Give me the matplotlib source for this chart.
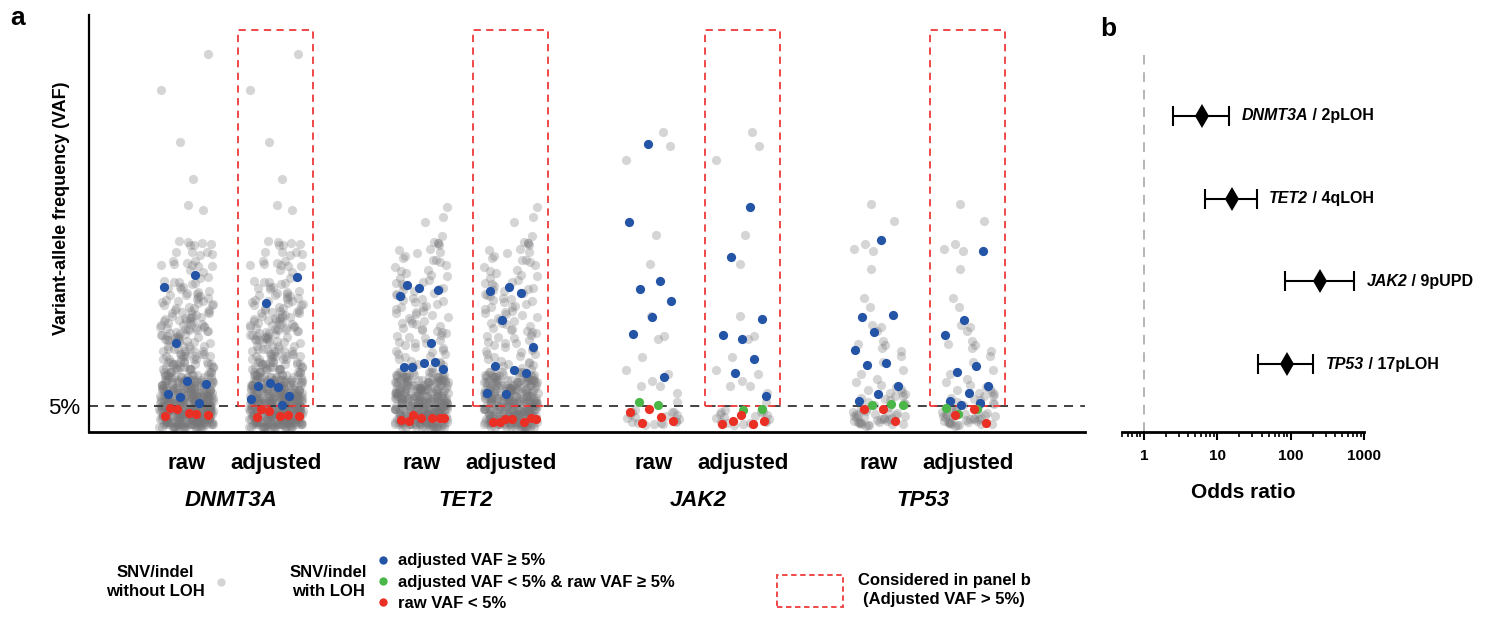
import numpy as np
import matplotlib
matplotlib.use('Agg')
import matplotlib.pyplot as plt
from matplotlib.lines import Line2D
from matplotlib.patches import Rectangle, Patch
from matplotlib.transforms import blended_transform_factory
from matplotlib.ticker import FixedLocator, FixedFormatter, LogLocator, NullFormatter

plt.rcParams['font.family'] = ['Liberation Sans', 'DejaVu Sans']

# ---------------- data ----------------
genes = ['DNMT3A', 'TET2', 'JAK2', 'TP53']
columns = ['raw', 'adjusted']
threshold = 5  # VAF %

# gray: SNV/indel without LOH (same in raw and adjusted columns)
dnmt3a_gray_upper = [72.6, 65.6, 55.7, 48.6, 43.6, 42.6, 36.7, 36.5, 36.2, 36.1, 35.9, 35.9, 34.6, 34.5,
                     34.5, 34.2, 34.0, 32.9, 32.8, 32.4, 32.2, 32.1, 32.1, 31.9, 31.9, 31.0, 30.6, 29.7,
                     29.6, 29.0, 28.8, 28.7, 28.6, 28.3, 27.9, 27.8, 27.4, 27.1, 26.9, 26.6, 26.5, 26.2,
                     26.0, 25.8, 25.5, 25.4, 25.1, 24.9, 24.7, 24.4, 24.3, 24.0, 23.8, 23.7, 23.4, 23.2,
                     23.0, 22.9, 22.6, 22.5, 22.3, 22.1, 21.9, 21.8, 21.6, 21.4, 21.3, 21.1, 20.9, 20.8,
                     20.6, 20.5, 20.3, 20.2, 20.0, 19.9, 19.7, 19.6, 19.4, 19.3, 19.1, 19.0, 18.9, 18.7,
                     18.6, 18.4, 18.3, 18.2, 18.0, 17.9, 17.8, 17.6, 17.5, 17.4, 17.2, 17.1,
                     27.6, 26.3, 25.2, 24.6, 23.5, 22.8, 22.0, 21.5, 20.7, 20.1, 19.5, 18.8, 18.1, 17.7,
                     25.9, 23.1, 21.2, 19.8, 18.5, 17.3]
dnmt3a_band_levels = [1.0, 1.5, 2.0, 2.5, 3.0, 3.5, 4.0, 4.5, 5.0, 5.5, 6.0, 6.5, 7.0, 7.5, 8.0, 8.5,
                      9.0, 9.5, 10.0, 10.5, 11.0, 11.5, 12.0, 12.5, 13.0, 13.5, 14.0, 14.5, 15.0, 15.5,
                      16.0, 16.5]
dnmt3a_band_counts = [18, 20, 20, 20, 20, 20, 20, 20, 19, 19, 18, 18, 17, 16, 15, 14,
                      13, 12, 11, 9, 8, 7, 7, 6, 6, 6, 5, 5, 5, 4, 4, 4]

tet2_gray_upper = [43.1, 41.2, 40.2, 37.6, 36.5, 36.2, 36.2, 35.9, 35.2, 34.9, 34.6, 34.3, 33.8, 33.3,
                   33.0, 33.0, 32.6, 32.1, 31.6, 31.1, 30.8, 30.5, 30.1, 29.9, 29.6, 29.2, 28.8, 28.6,
                   28.4, 28.0, 27.7, 27.5, 27.3, 27.0, 26.7, 26.5, 26.3, 26.1, 25.8, 25.6, 25.4, 25.2,
                   24.9, 24.5, 24.2, 24.0, 23.9, 23.6, 23.3, 23.1, 22.8, 22.6, 22.4, 22.1, 21.9, 21.5,
                   21.2, 21.0, 20.9, 20.7, 20.3, 20.0, 19.8, 19.6, 19.4, 19.1, 18.9, 18.7, 18.5, 18.2,
                   18.0, 17.6, 17.3, 17.1, 17.0, 16.7, 16.4, 16.2, 15.8, 15.5, 15.3, 15.0, 14.9, 14.6,
                   14.4, 14.0, 13.7, 13.5, 13.3, 13.1, 12.8, 12.6, 12.2, 12.0]
tet2_band_levels = [1.0, 1.5, 2.0, 2.5, 3.0, 3.5, 4.0, 4.5, 5.0, 5.5, 6.0, 6.5, 7.0, 7.5, 8.0, 8.5,
                    9.0, 9.5, 10.0, 10.5, 11.0, 11.5]
tet2_band_counts = [14, 16, 16, 16, 16, 16, 16, 16, 16, 15, 15, 15, 14, 14, 13, 13,
                    12, 12, 11, 10, 8, 6]

jak2_gray = [57.5, 54.8, 52.2, 37.7, 32.3, 22.3, 17.9, 18.4, 14.3, 11.8, 11.1, 8.8, 8.9, 9.8, 7.4,
             5.8, 3.9, 2.9, 1.7, 3.4, 2.5, 2.2, 1.9, 1.5, 3.2, 3.8, 1.8, 3.9, 2.0, 1.4, 4.2, 2.7,
             3.0, 1.6]

tp53_gray = [43.8, 40.5, 36.0, 35.1, 34.8, 31.2, 25.7, 23.9, 20.5, 20.1, 19.3, 17.5, 16.6, 16.9,
             16.1, 15.6, 14.5, 13.5, 11.9, 11.1, 10.2, 9.5, 9.0, 8.3, 8.1, 7.6, 7.4, 8.6, 7.3, 7.0,
             6.9, 6.5, 6.3, 5.8, 5.6, 6.1, 5.4, 5.2, 4.6, 4.1, 3.7, 3.3, 2.9, 2.6, 2.3, 2.0, 1.7,
             1.4, 4.4, 3.9, 3.5, 3.1, 2.7, 2.4, 2.1, 1.8, 1.5, 1.2, 4.2, 3.6, 3.0, 2.5, 2.2, 1.9,
             1.6, 1.3, 3.4, 2.8, 2.0, 1.5, 4.8, 3.2, 2.4]

# SNV/indel with LOH
dnmt3a_blue_raw = [27.8, 30.1, 17.1, 9.2, 9.8, 7.3, 5.6, 6.7]
dnmt3a_blue_adj = [24.8, 29.8, 8.6, 8.8, 6.9, 9.4, 6.3, 5.1]
dnmt3a_green_raw = []
dnmt3a_green_adj = []
dnmt3a_red_raw = [3.1, 3.5, 4.4, 3.3, 3.6, 4.6]
dnmt3a_red_adj = [2.9, 3.3, 4.0, 3.1, 3.1, 4.4]

tet2_blue_raw = [28.2, 27.3, 27.7, 26.1, 17.1, 12.4, 12.0, 13.2, 12.4, 13.4]
tet2_blue_adj = [27.9, 27.1, 26.6, 21.4, 16.4, 11.8, 12.7, 11.4, 7.2, 7.4]
tet2_green_raw = []
tet2_green_adj = []
tet2_red_raw = [2.2, 2.7, 2.6, 2.3, 2.6, 3.3, 2.6]
tet2_red_adj = [2.0, 2.6, 2.5, 1.9, 1.9, 2.5, 2.5]

jak2_blue_raw = [55.2, 40.2, 29.0, 27.4, 25.2, 22.1, 18.8, 10.5]
jak2_blue_adj = [43.1, 33.5, 21.6, 17.9, 18.6, 14.0, 11.4, 7.0]
jak2_green_raw = [5.2, 5.7]
jak2_green_adj = [4.4, 4.2]
jak2_red_raw = [4.5, 3.9, 2.8, 1.8, 2.1]
jak2_red_adj = [3.3, 1.5, 1.5, 2.1, 2.1]

tp53_blue_raw = [36.9, 22.1, 22.5, 19.1, 15.7, 13.2, 12.9, 8.9, 7.3, 6.0]
tp53_blue_adj = [34.7, 21.5, 18.6, 12.7, 11.6, 8.9, 7.4, 5.9, 5.6, 5.1]
tp53_green_raw = [5.3, 5.2, 5.1]
tp53_green_adj = [4.7, 4.4, 3.5]
tp53_red_raw = [4.5, 4.4, 2.2]
tp53_red_adj = [4.4, 3.3, 1.8]

box_top = 77.1  # top of "considered in panel b" box (VAF %)

# panel b: odds ratios
or_labels_gene = ['DNMT3A', 'TET2', 'JAK2', 'TP53']
or_labels_event = ['2pLOH', '4qLOH', '9pUPD', '17pLOH']
or_est = [6.2, 15.7, 247, 88]
or_lo = [2.5, 6.75, 83, 35.6]
or_hi = [14.3, 34.5, 720, 200]
or_ticks = [1, 10, 100, 1000]

# ---------------- style ----------------
GRAY = '#77777a'
GRAY_LIGHT = '#d4d4d4'
BLUE = '#2454a6'
GREEN = '#4bb748'
RED = '#ea3025'
BOXRED = '#ee3a3a'

W, H = 1490, 617
fig = plt.figure(figsize=(W / 100, H / 100), dpi=100)


def fx(px):
    return px / W


def fy(py):
    return 1 - py / H


# ---------------- panel a ----------------
ax = fig.add_axes([fx(89), fy(432), (1085 - 89) / W, (432 - 15) / H])
ax.set_xlim(0, 996)
ax.set_ylim(0, 80)

gene_mid = [142, 377, 609, 834]
col_off = 44.75
half_jit = 27
MS = 44


def jitter_hash(n, seed):
    # deterministic strip-plot spread (hash of the point index)
    i = np.arange(n, dtype=float) + 1.0
    h = np.sin(i * 12.9898 + seed * 78.233) * 43758.5453
    return ((h - np.floor(h)) - 0.5) * 2 * half_jit


def jitter_even(n, phase):
    # evenly spread offsets for the few highlighted points
    return ((np.arange(n) * 0.6180339887 + phase) % 1.0 - 0.5) * 2 * (half_jit - 2)


gray_sets = [
    dnmt3a_gray_upper + list(np.repeat(dnmt3a_band_levels, dnmt3a_band_counts)),
    tet2_gray_upper + list(np.repeat(tet2_band_levels, tet2_band_counts)),
    jak2_gray,
    tp53_gray,
]
loh_sets = [
    (dnmt3a_blue_raw, dnmt3a_blue_adj, dnmt3a_green_raw, dnmt3a_green_adj, dnmt3a_red_raw, dnmt3a_red_adj),
    (tet2_blue_raw, tet2_blue_adj, tet2_green_raw, tet2_green_adj, tet2_red_raw, tet2_red_adj),
    (jak2_blue_raw, jak2_blue_adj, jak2_green_raw, jak2_green_adj, jak2_red_raw, jak2_red_adj),
    (tp53_blue_raw, tp53_blue_adj, tp53_green_raw, tp53_green_adj, tp53_red_raw, tp53_red_adj),
]
phases = [0.05, 0.30, 0.25, 0.55, 0.08, 0.12]

tick_pos, tick_lab = [], []
for gi, gene in enumerate(genes):
    xr = gene_mid[gi] - col_off
    xa = gene_mid[gi] + col_off
    tick_pos += [xr, xa]
    tick_lab += columns
    g = np.array(gray_sets[gi], dtype=float)
    j = jitter_hash(len(g), 1.7 + gi)
    for xc in (xr, xa):
        ax.scatter(xc + j, g, s=MS, color=GRAY, alpha=0.3, linewidths=0, zorder=1)
    br, ba, gr_, ga, rr, ra = loh_sets[gi]
    for k, (vals, xc, col) in enumerate([(br, xr, BLUE), (ba, xa, BLUE), (gr_, xr, GREEN),
                                         (ga, xa, GREEN), (rr, xr, RED), (ra, xa, RED)]):
        if len(vals) == 0:
            continue
        jj = jitter_even(len(vals), phases[k] + 0.17 * gi)
        ax.scatter(xc + jj, vals, s=MS, color=col, linewidths=0, zorder=4)
    ax.add_patch(Rectangle((xa - 37.5, threshold), 75, box_top - threshold, fill=False,
                           edgecolor=BOXRED, linestyle=(0, (4, 3)), linewidth=1.3, zorder=3))

ax.axhline(threshold, color='#333333', linestyle=(0, (5, 4)), linewidth=1.3, zorder=2)

ax.set_xticks(tick_pos)
ax.set_xticklabels(tick_lab, fontsize=16, fontweight='bold')
ax.tick_params(axis='x', length=0, pad=15)
ax.set_yticks([threshold])
ax.set_yticklabels(['5%'], fontsize=16)
ax.tick_params(axis='y', length=0, pad=6)
for s in ('top', 'right'):
    ax.spines[s].set_visible(False)
ax.spines['left'].set_linewidth(1.6)
ax.spines['bottom'].set_linewidth(2.0)

btrans = blended_transform_factory(ax.transData, fig.transFigure)
for gi, gene in enumerate(genes):
    ax.text(gene_mid[gi], fy(500), gene, transform=btrans, ha='center', va='center',
            fontsize=16, fontweight='bold', fontstyle='italic')

fig.text(fx(62), fy(208), 'Variant-allele frequency (VAF)', rotation=90, ha='center', va='center',
         fontsize=13, fontweight='bold')

# ---------------- panel b ----------------
axb = fig.add_axes([fx(1121.7), fy(432), (1364.3 - 1121.7) / W, (432 - 55) / H])
axb.set_xscale('log')
axb.set_xlim(0.5, 1000)
axb.set_ylim(0.178, 4.737)
ypos = [4, 3, 2, 1]
est = np.array(or_est)
lo = np.array(or_lo)
hi = np.array(or_hi)
axb.axvline(1, color='#b5b5b5', linestyle=(0, (5, 4)), linewidth=1.4, zorder=1)
axb.errorbar(est, ypos, xerr=[est - lo, hi - est], fmt='none', ecolor='black',
             elinewidth=1.5, capsize=7.5, capthick=1.5, zorder=3)
axb.plot(est, ypos, linestyle='none', marker='d', markersize=12, markeredgewidth=0,
         color='black', zorder=4)
for i in range(len(est)):
    t1 = axb.annotate(or_labels_gene[i], xy=(hi[i], ypos[i]), xytext=(9, 0),
                      textcoords='offset points', va='center', ha='left',
                      fontsize=11.5, fontweight='bold', fontstyle='italic')
    axb.annotate(' / ' + or_labels_event[i], xy=(1, 0.5), xycoords=t1, va='center', ha='left',
                 fontsize=11.5, fontweight='bold')

axb.xaxis.set_major_locator(FixedLocator(or_ticks))
axb.xaxis.set_major_formatter(FixedFormatter([str(t) for t in or_ticks]))
axb.xaxis.set_minor_locator(LogLocator(base=10, subs=(2, 3, 4, 5, 6, 7, 8, 9), numticks=20))
axb.xaxis.set_minor_formatter(NullFormatter())
axb.tick_params(axis='x', which='major', length=6, width=1.5, labelsize=11, pad=6)
axb.tick_params(axis='x', which='minor', length=3.5, width=1.2)
for lab in axb.get_xticklabels():
    lab.set_fontweight('bold')
axb.set_yticks([])
for s in ('top', 'right', 'left'):
    axb.spines[s].set_visible(False)
axb.spines['bottom'].set_linewidth(2.0)
axb.set_xlabel('Odds ratio', fontsize=15, fontweight='bold', labelpad=15)

# ---------------- panel letters ----------------
fig.text(fx(18), fy(18), 'a', fontsize=19, fontweight='bold', ha='center', va='center')
fig.text(fx(1108), fy(29), 'b', fontsize=19, fontweight='bold', ha='center', va='center')

# ---------------- legends ----------------
bold12 = {'weight': 'bold', 'size': 12}
legA = fig.legend(handles=[Line2D([0], [0], marker='o', linestyle='none', markerfacecolor=GRAY_LIGHT,
                                  markeredgecolor='none', markersize=6)],
                  labels=['SNV/indel\nwithout LOH'], markerfirst=False, loc='center',
                  bbox_to_anchor=(fx(167), fy(582)), frameon=False, prop=bold12,
                  handlelength=0.8, handletextpad=0.6, borderpad=0, borderaxespad=0)
for t in legA.get_texts():
    t.set_multialignment('center')
    t.set_linespacing(1.4)

fig.text(fx(328.5), fy(582), 'SNV/indel\nwith LOH', ha='center', va='center', multialignment='center',
         fontsize=12, fontweight='bold', linespacing=1.4)

loh_handles = [Line2D([0], [0], marker='o', linestyle='none', markerfacecolor=c, markeredgecolor='none',
                      markersize=6) for c in (BLUE, GREEN, RED)]
legB = fig.legend(handles=loh_handles,
                  labels=['adjusted VAF \u2265 5%', 'adjusted VAF < 5% & raw VAF \u2265 5%', 'raw VAF < 5%'],
                  loc='center left', bbox_to_anchor=(fx(377), fy(582)), frameon=False, prop=bold12,
                  handlelength=0.7, handletextpad=0.55, labelspacing=0.36, borderpad=0, borderaxespad=0)

box_handle = Patch(facecolor='none', edgecolor=BOXRED, linestyle=(0, (3, 2)), linewidth=1.3)
legC = fig.legend(handles=[box_handle], labels=['Considered in panel b\n(Adjusted VAF > 5%)'],
                  loc='center left', bbox_to_anchor=(fx(776.7), fy(590)), frameon=False, prop=bold12,
                  handlelength=3.95, handleheight=2.57, handletextpad=0.9, borderpad=0, borderaxespad=0)
for t in legC.get_texts():
    t.set_multialignment('center')
    t.set_linespacing(1.3)

fig.savefig('out.png', dpi=100)
